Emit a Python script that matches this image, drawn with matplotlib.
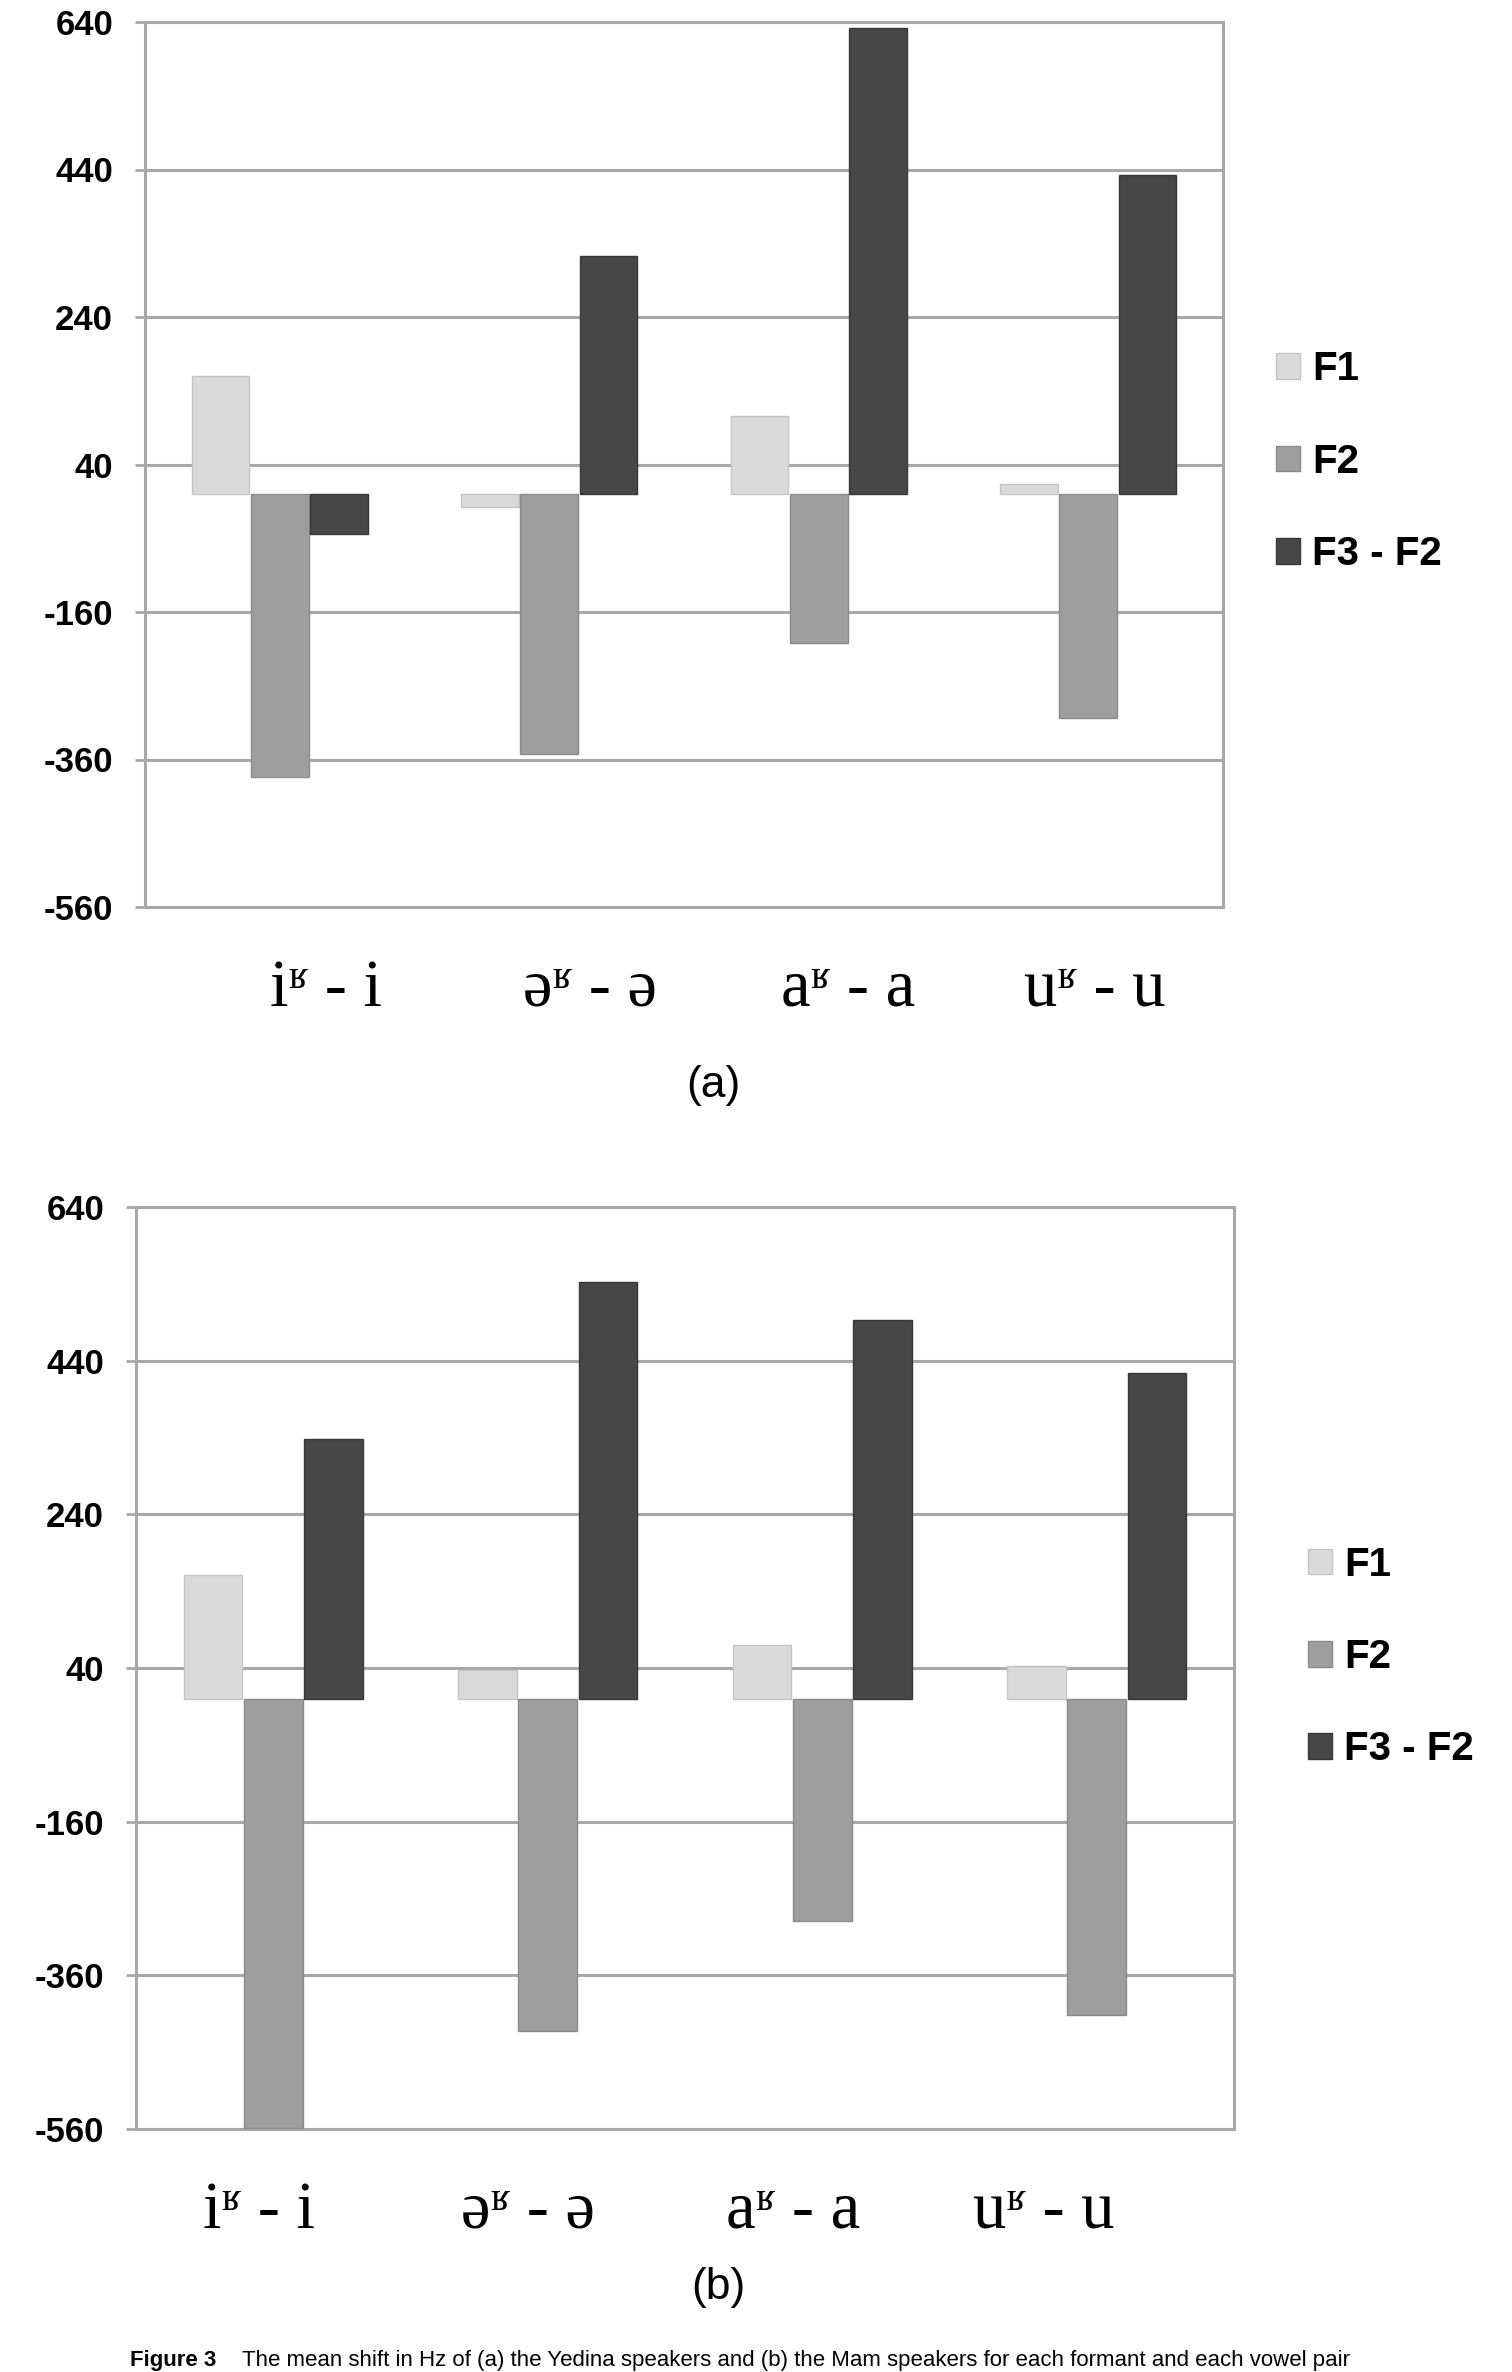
import matplotlib
matplotlib.use("Agg")
import matplotlib.pyplot as plt
import numpy as np

categories = ["iʶ - i", "əʶ - ə", "aʶ - a", "uʶ - u"]
series = ["F1", "F2", "F3 - F2"]
y_ticks = [-560, -360, -160, 40, 240, 440, 640]

# panel (a)
f1_a = [160, -18, 106, 13]
f2_a = [-384, -353, -202, -304]
f3f2_a = [-54, 323, 632, 433]

# panel (b)
f1_b = [161, 37, 70, 42]
f2_b = [-559, -432, -289, -412]
f3f2_b = [338, 543, 493, 424]

COLORS = ["#dadada", "#9e9e9e", "#474747"]
EDGES = ["#c4c4c4", "#8a8a8a", "#383838"]
GRID = "#a8a8a8"
SANS = ["Liberation Sans", "DejaVu Sans"]
SERIF = ["Liberation Serif", "DejaVu Serif"]

W, H = 1512, 2372


def px_rect(left, right, top, bottom):
    return [left / W, 1 - bottom / H, (right - left) / W, (bottom - top) / H]


def draw_panel(fig, rect, values, label_dx, legend_anchor):
    ax = fig.add_axes(rect)
    x = np.arange(len(categories))
    width = 0.22
    for i, vals in enumerate(values):
        ax.bar(x + (i - 1) * width, vals, width=width * 0.97, color=COLORS[i],
               edgecolor=EDGES[i], linewidth=1.0, zorder=3, label=series[i])

    ax.set_xlim(-0.5, len(categories) - 0.5)
    ax.set_ylim(y_ticks[0], y_ticks[-1])
    ax.set_yticks(y_ticks)
    ax.set_yticklabels([str(t) for t in y_ticks], fontsize=25,
                       fontweight="bold", family=SANS)
    ax.set_xticks([])
    ax.tick_params(axis="y", length=7, width=2, color=GRID, pad=16)
    ax.grid(True, axis="y", color=GRID, linewidth=2.2, zorder=0)
    ax.set_axisbelow(True)
    for side in ("left", "right", "top", "bottom"):
        ax.spines[side].set_color(GRID)
        ax.spines[side].set_linewidth(2.2)

    for i, lab in enumerate(categories):
        ax.annotate(lab, xy=(x[i], 0), xycoords=ax.get_xaxis_transform(),
                    xytext=(label_dx[i], -71), textcoords="offset points",
                    ha="center", va="baseline", fontsize=48, family=SERIF)

    handles = [plt.Rectangle((0, 0), 1, 1, facecolor=COLORS[i], edgecolor=EDGES[i])
               for i in range(len(series))]
    ax.legend(handles, series, loc="center left", bbox_to_anchor=legend_anchor,
              frameon=False, borderpad=0, borderaxespad=0,
              handlelength=0.6, handleheight=0.6, handletextpad=0.3,
              labelspacing=1.35, prop={"family": SANS, "weight": "bold", "size": 29})
    return ax


fig = plt.figure(figsize=(W / 100, H / 100), dpi=100)
fig.patch.set_facecolor("white")

draw_panel(fig, px_rect(145, 1223, 22, 907), [f1_a, f2_a, f3f2_a],
           [33, 29, 21, 5], (1.049, 0.503))
draw_panel(fig, px_rect(136, 1234, 1207, 2129), [f1_b, f2_b, f3f2_b],
           [-10, -14, -21, -38], (1.067, 0.512))

fig.text(713 / W, 1 - 1085 / H, "(a)", ha="center", va="center",
         fontsize=32, family=SANS)
fig.text(718 / W, 1 - 2288 / H, "(b)", ha="center", va="center",
         fontsize=32, family=SANS)

# caption along the bottom edge
fig.text(130 / W, 1 - 2366 / H, "Figure 3", ha="left", va="baseline",
         fontsize=16, fontweight="bold", family=SANS)
fig.text(242 / W, 1 - 2366 / H,
         "The mean shift in Hz of (a) the Yedina speakers and (b) the Mam speakers "
         "for each formant and each vowel pair",
         ha="left", va="baseline", fontsize=16, family=SANS)

fig.savefig("out.png", dpi=100)
